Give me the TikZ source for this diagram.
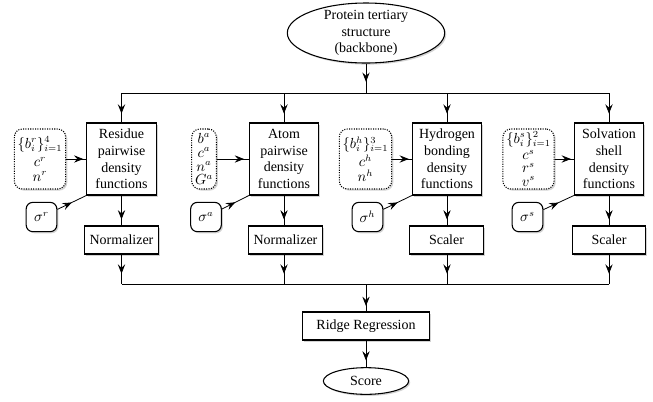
\documentclass[tikz,border=0pt]{standalone}
\usepackage{amsmath,amssymb}
\usepackage{fontspec}
\setmainfont{Liberation Serif}
\usetikzlibrary{shapes.geometric, arrows.meta, decorations.markings, shadows}

\begin{document}
\begin{tikzpicture}[x=0.75pt, y=-0.75pt, font=\fontsize{10.5pt}{12.4pt}\selectfont,
        shade/.style={drop shadow={shadow xshift=1.2pt, shadow yshift=-1.2pt, opacity=0.35}},
        box/.style={draw, thick, fill=white, align=center, shade},
        func/.style={box, minimum width=52pt, minimum height=54pt, inner sep=1pt},
        proc/.style={box, minimum width=55pt, minimum height=21pt},
        param/.style={draw, thick, densely dotted, rounded corners=6pt, fill=white, align=center, minimum height=45pt, inner xsep=2.5pt, inner ysep=1pt, shade},
        sig/.style={draw, thick, rounded corners=5pt, fill=white, minimum width=23pt, minimum height=22pt, inner sep=1pt, shade},
        term/.style={draw, thick, ellipse, fill=white, align=center, shade},
        arr/.style={semithick, decoration={markings, mark=at position #1 with {\arrow{Stealth[length=7pt,width=5.5pt,inset=2.5pt]}}}, postaction={decorate}},
        arr/.default=0.7]
    \useasboundingbox (0,0) rectangle (653,401);

    % source and sink
    \node[term, minimum width=118pt, minimum height=45pt, inner xsep=0pt, inner ysep=-1.5pt] (prot) at (366,33) {Protein tertiary\\structure\\(backbone)};
    \node[box, minimum width=95pt, minimum height=21pt] (ridge) at (366,326) {Ridge Regression};
    \node[term, minimum width=64pt, minimum height=20pt, inner sep=0pt] (score) at (366,381) {Score};

    % density functions
    \node[func] (res) at (121.5,159) {Residue\\pairwise\\density\\functions};
    \node[func] (atm) at (284,159) {Atom\\pairwise\\density\\functions};
    \node[func] (hyd) at (447,159) {Hydrogen\\bonding\\density\\functions};
    \node[func] (sol) at (609,159) {Solvation\\shell\\density\\functions};

    % parameters
    \node[param] (pres) at (40,159) {$\{b_i^r\}_{i=1}^4$\\[1.5pt]$c^r$\\[-1.5pt]$n^r$};
    \node[param] (patm) at (204,159) {$b^a$\\[-2pt]$c^a$\\[-2pt]$n^a$\\[-2pt]$G^a$};
    \node[param] (phyd) at (365.5,159) {$\{b_i^h\}_{i=1}^3$\\[1.5pt]$c^h$\\[-1.5pt]$n^h$};
    \node[param] (psol) at (528.5,159) {$\{b_i^s\}_{i=1}^2$\\[0pt]$c^s$\\[-2.5pt]$r^s$\\[-2.5pt]$v^s$};

    \node[sig] (sres) at (41.5,217) {$\sigma^r$};
    \node[sig] (satm) at (206,217) {$\sigma^a$};
    \node[sig] (shyd) at (367.5,217) {$\sigma^h$};
    \node[sig] (ssol) at (527.5,217) {$\sigma^s$};

    % post-processing
    \node[proc] (nres) at (121.5,240) {Normalizer};
    \node[proc] (natm) at (285.5,240) {Normalizer};
    \node[proc] (nhyd) at (446.5,240) {Scaler};
    \node[proc] (nsol) at (609,240) {Scaler};

    % busses
    \coordinate (t1) at (121.5,93);
    \coordinate (t4) at (609,93);
    \coordinate (b1) at (121.5,284);
    \coordinate (b4) at (609,284);
    \draw[semithick] (t1) -- (t4);
    \draw[semithick] (b1) -- (b4);

    \draw[arr=0.62] (prot) -- (prot |- t1);
    \draw[arr] (t1) -- (res);
    \draw[arr] (atm |- t1) -- (atm);
    \draw[arr] (hyd |- t1) -- (hyd);
    \draw[arr] (t4) -- (sol);

    \draw[arr=0.85] (pres) -- (res);
    \draw[arr=0.85] (patm) -- (atm);
    \draw[arr=0.85] (phyd) -- (hyd);
    \draw[arr=0.85] (psol) -- (sol);

    \draw[arr=0.5] (sres) -- (res.south west);
    \draw[arr=0.5] (satm) -- (atm.south west);
    \draw[arr=0.5] (shyd) -- (hyd.south west);
    \draw[arr=0.5] (ssol) -- (sol.south west);

    \draw[arr=0.8] (res) -- (nres);
    \draw[arr=0.8] (atm) -- (atm |- natm.north);
    \draw[arr=0.8] (hyd) -- (hyd |- nhyd.north);
    \draw[arr=0.8] (sol) -- (nsol);

    \draw[arr=0.65] (nres) -- (b1);
    \draw[arr=0.65] (natm.south -| atm) -- (atm |- b1);
    \draw[arr=0.65] (nhyd.south -| hyd) -- (hyd |- b1);
    \draw[arr=0.65] (nsol) -- (b4);

    \draw[arr=0.8] (ridge |- b1) -- (ridge);
    \draw[arr=0.75] (ridge) -- (score);
\end{tikzpicture}
\end{document}
